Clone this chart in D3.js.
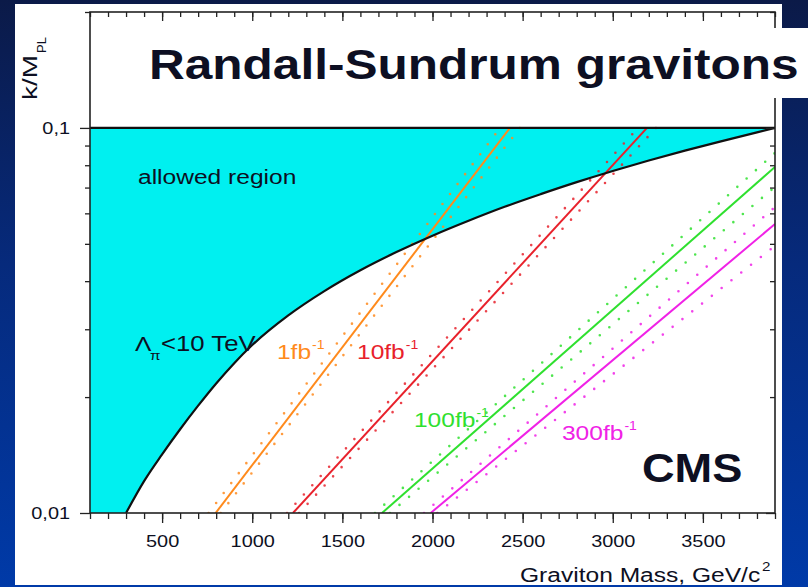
<!DOCTYPE html>
<html>
<head>
<meta charset="utf-8">
<script src="https://cdn.jsdelivr.net/npm/d3@7/dist/d3.min.js"></script>
<style>
  html, body { margin: 0; padding: 0; background: #0a1a4c; }
  svg { display: block; }
</style>
</head>
<body>
<svg id="chart" width="808" height="587"></svg>
<script>
// ---- Data: RS graviton reach, coupling k/M_PL versus graviton mass (GeV/c^2) ----
const massDomain = [100, 3900];
const couplingDomain = [0.01, 0.2];

// Lambda_pi < 10 TeV boundary of the allowed region
const boundaryMass     = [300, 400, 500, 600, 700, 800, 900, 1000, 1200, 1400, 1600, 1800, 2000, 2200, 2400, 2600, 2800, 3000, 3200, 3400, 3600, 3800, 3900];
const boundaryCoupling = [0.0100, 0.0121, 0.0142, 0.0165, 0.0190, 0.0217, 0.0245, 0.0273, 0.0326, 0.0377, 0.0427, 0.0476, 0.0525, 0.0574, 0.0624, 0.0673, 0.0723, 0.0773, 0.0823, 0.0873, 0.0923, 0.0974, 0.1000];

// Discovery reach for each integrated luminosity
const lumiNames = ["1fb", "10fb", "100fb", "300fb"];
// central line: mass at k/M = 0.01, then end point [mass, coupling]
const centralFrom = [797, 1226, 1720, 1990];
const centralTo   = [[2430, 0.1], [3190, 0.1], [3900, 0.0792], [3900, 0.0563]];
// uncertainty band (dotted): higher-coupling side and lower-coupling side
const upperFrom = [758, 1193, 1681, 1953];
const upperTo   = [[2375, 0.1], [3140, 0.1], [3900, 0.0861], [3900, 0.0623]];
const lowerFrom = [825, 1260, 1764, 2027];
const lowerTo   = [[2485, 0.1], [3240, 0.1], [3900, 0.0703], [3900, 0.0494]];

// Axis ticks
const massTicks = [500, 1000, 1500, 2000, 2500, 3000, 3500];
const massMinorTicks = d3.range(100, 3901, 100);
const couplingTicks = [0.01, 0.1];
const couplingTickLabels = ["0,01", "0,1"];
const couplingMinorTicks = [0.02, 0.03, 0.04, 0.05, 0.06, 0.07, 0.08, 0.09, 0.2];

// ---- Styles ----
const lumiColors = ["#ff8a1c", "#e8212b", "#2fe02f", "#f022e6"];
const FONT = "'Liberation Sans', Arial, Helvetica, sans-serif";
const INK = "#0d0f22";
const SX = 1.17; // horizontal stretch of the plot lettering

const svg = d3.select("#chart");
const defs = svg.append("defs");

const grad = defs.append("linearGradient").attr("id", "bg")
  .attr("x1", 0).attr("y1", 0).attr("x2", 0).attr("y2", 1);
grad.append("stop").attr("offset", 0).attr("stop-color", "#0b1a48");
grad.append("stop").attr("offset", 0.45).attr("stop-color", "#062a7c");
grad.append("stop").attr("offset", 1).attr("stop-color", "#003aa8");
svg.append("rect").attr("width", 808).attr("height", 587).attr("fill", "url(#bg)");

// white sheet carrying the plot
svg.append("rect").attr("x", 15).attr("y", 4).attr("width", 767).attr("height", 581).attr("fill", "#ffffff");

// plot area
const plot = { left: 90, right: 775, top: 12, bottom: 513 };
const x = d3.scaleLinear().domain(massDomain).range([plot.left, plot.right]);
const y = d3.scaleLog().domain(couplingDomain).range([plot.bottom, plot.top]);

defs.append("clipPath").attr("id", "plotClip").append("rect")
  .attr("x", plot.left).attr("y", plot.top)
  .attr("width", plot.right - plot.left).attr("height", plot.bottom - plot.top);

const g = svg.append("g").attr("clip-path", "url(#plotClip)");

// allowed region
const boundaryPts = boundaryMass.map((m, i) => [x(m), y(boundaryCoupling[i])]);
const boundaryLine = d3.line().curve(d3.curveMonotoneX);
const bPath = boundaryLine(boundaryPts);
const regionPath = bPath +
  `L${x(massDomain[1])},${y(0.1)}L${x(massDomain[0])},${y(0.1)}L${x(massDomain[0])},${y(0.01)}Z`;
g.append("path").attr("d", regionPath).attr("fill", "#00f0f0");

// reach lines
const seg = d3.line().x(d => x(d[0])).y(d => y(d[1]));
lumiNames.forEach((name, i) => {
  const col = lumiColors[i];
  [[upperFrom[i], upperTo[i]], [lowerFrom[i], lowerTo[i]]].forEach(([m0, end]) => {
    g.append("path").attr("d", seg([[m0, 0.01], end]))
      .attr("fill", "none").attr("stroke", col).attr("stroke-width", 2.6)
      .attr("stroke-linecap", "round").attr("stroke-dasharray", "0 12.5")
      .attr("opacity", 0.85);
  });
  g.append("path").attr("d", seg([[centralFrom[i], 0.01], centralTo[i]]))
    .attr("fill", "none").attr("stroke", col).attr("stroke-width", 2);
});

// boundary and k/M = 0.1 limit
g.append("path").attr("d", bPath).attr("fill", "none").attr("stroke", "#111").attr("stroke-width", 2.2);
g.append("path").attr("d", seg([[massDomain[0], 0.1], [massDomain[1], 0.1]]))
  .attr("fill", "none").attr("stroke", "#111").attr("stroke-width", 2.2);

// ---- Axes ----
function styleAxis(sel) {
  sel.select(".domain").remove();
  sel.selectAll("line").attr("stroke", "#222").attr("stroke-width", 1.3);
}
// bottom (ticks outward)
svg.append("g").attr("transform", `translate(0,${plot.bottom})`)
  .call(d3.axisBottom(x).tickValues(massMinorTicks).tickSize(6).tickFormat(""))
  .call(styleAxis);
const xb = svg.append("g").attr("transform", `translate(0,${plot.bottom})`)
  .call(d3.axisBottom(x).tickValues(massTicks).tickSize(10).tickFormat(d3.format("d")))
  .call(styleAxis);
xb.selectAll("text").attr("y", 34).attr("dy", 0)
  .attr("font-family", FONT).attr("font-size", 17).attr("fill", INK)
  .attr("transform", `scale(${SX},1)`);

// top (ticks inward)
svg.append("g").attr("transform", `translate(0,${plot.top})`)
  .call(d3.axisBottom(x).tickValues(massMinorTicks).tickSize(5).tickFormat(""))
  .call(styleAxis);
svg.append("g").attr("transform", `translate(0,${plot.top})`)
  .call(d3.axisBottom(x).tickValues(massTicks).tickSize(9).tickFormat(""))
  .call(styleAxis);

// left (ticks outward)
svg.append("g").attr("transform", `translate(${plot.left},0)`)
  .call(d3.axisLeft(y).tickValues(couplingMinorTicks).tickSize(5).tickFormat(""))
  .call(styleAxis);
const yl = svg.append("g").attr("transform", `translate(${plot.left},0)`)
  .call(d3.axisLeft(y).tickValues(couplingTicks).tickSize(10)
    .tickFormat((d, i) => couplingTickLabels[i]))
  .call(styleAxis);
yl.selectAll("text").attr("x", -20 / SX).attr("dy", "0.35em")
  .attr("font-family", FONT).attr("font-size", 17).attr("fill", INK)
  .attr("transform", `scale(${SX},1)`);

// right (ticks inward)
svg.append("g").attr("transform", `translate(${plot.right},0)`)
  .call(d3.axisLeft(y).tickValues(couplingMinorTicks).tickSize(5).tickFormat(""))
  .call(styleAxis);
svg.append("g").attr("transform", `translate(${plot.right},0)`)
  .call(d3.axisLeft(y).tickValues(couplingTicks).tickSize(9).tickFormat(""))
  .call(styleAxis);

// frame
svg.append("rect").attr("x", plot.left).attr("y", plot.top)
  .attr("width", plot.right - plot.left).attr("height", plot.bottom - plot.top)
  .attr("fill", "none").attr("stroke", "#222").attr("stroke-width", 1.6);

// ---- Text ----
function label(px, py, str, size, color, opts = {}) {
  return svg.append("text")
    .attr("transform", `translate(${px},${py}) scale(${opts.sx || SX},1)`)
    .attr("font-family", FONT).attr("font-size", size)
    .attr("font-weight", opts.bold ? "bold" : "normal")
    .attr("text-anchor", opts.anchor || "start")
    .attr("fill", color).text(str);
}

label(138, 184, "allowed region", 21, INK);
label(135, 351, "Λ", 21, INK);
label(150, 360, "π", 13, INK);
label(161, 351, "<10 TeV", 22, INK);

// luminosity labels placed in data coordinates
const lumiLabelAt = [[1137, 0.0251], [1581, 0.0251], [1897, 0.01673], [2718, 0.01547]];
lumiNames.forEach((name, i) => {
  const px = x(lumiLabelAt[i][0]), py = y(lumiLabelAt[i][1]);
  const t = label(px, py, name, 21, lumiColors[i]);
  const w = t.node().getComputedTextLength() * SX;
  label(px + w + 1, py - 10, "-1", 12, lumiColors[i]);
});

// axis titles
label(520, 582, "Graviton Mass, GeV/c", 21, INK);
label(762, 571, "2", 13, INK);

const yt = svg.append("g").attr("transform", "translate(37,100) rotate(-90)");
yt.append("text").attr("font-family", FONT).attr("font-size", 21).attr("fill", INK)
  .attr("textLength", 45).attr("lengthAdjust", "spacingAndGlyphs").text("k/M");
yt.append("text").attr("x", 47).attr("y", 9).attr("font-family", FONT).attr("font-size", 13)
  .attr("fill", INK).text("PL");

// title on its own white strip
svg.append("rect").attr("x", 140).attr("y", 28).attr("width", 668).attr("height", 70).attr("fill", "#ffffff");
label(149, 79, "Randall-Sundrum gravitons", 42, INK, { bold: true, sx: 1.18 });

label(642, 482, "CMS", 40, INK, { bold: true, sx: 1.13 });
</script>
</body>
</html>
